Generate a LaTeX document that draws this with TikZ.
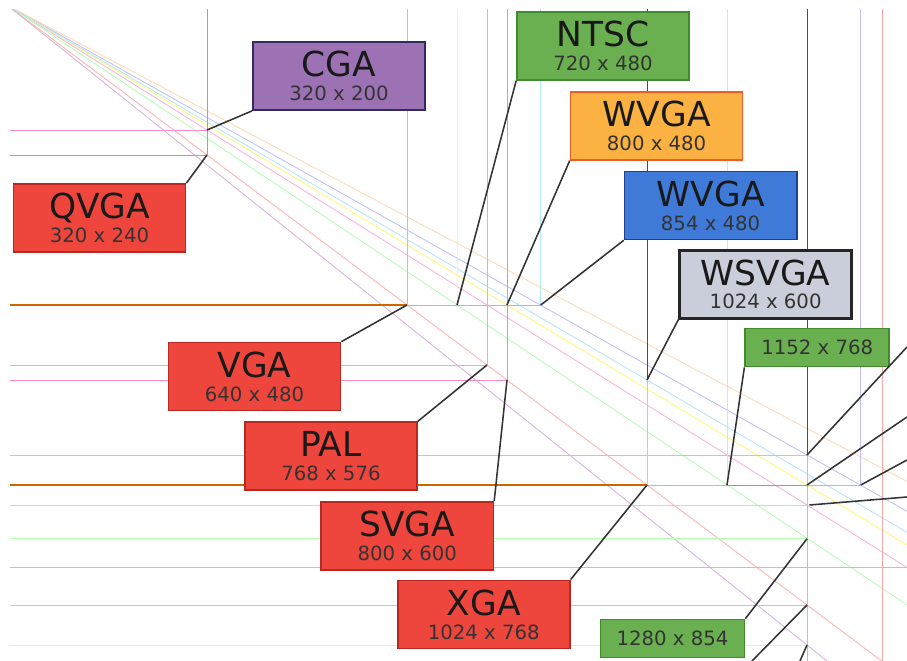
\documentclass[tikz,border=0pt]{standalone}
\usepackage{fontspec}
\setmainfont{DejaVu Sans}
\usepackage{xcolor}
\usepackage{tikz}
\usetikzlibrary{positioning}
\definecolor{vgared}{RGB}{238,70,60}
\definecolor{vgaredline}{RGB}{185,40,32}
\definecolor{cgapurple}{RGB}{156,114,180}
\definecolor{cgaline}{RGB}{48,44,96}
\definecolor{ntscgreen}{RGB}{106,176,80}
\definecolor{ntscline}{RGB}{64,138,48}
\definecolor{wvgaorange}{RGB}{251,178,66}
\definecolor{wvgaorangeline}{RGB}{240,92,36}
\definecolor{wvgablue}{RGB}{64,122,216}
\definecolor{wvgablueline}{RGB}{32,64,138}
\definecolor{wsvgagray}{RGB}{202,206,218}
\tikzset{
	gridline/.style={line width=0.6pt},
	leader/.style={draw=black!80, line width=1.1pt},
	resbox/.style={
		rectangle, draw, line width=1.2pt,
		minimum width=4.3cm, minimum height=1.7cm, inner sep=2pt,
		align=center, text=black!90, font=\fontsize{14}{17}\selectfont
	},
	redbox/.style={resbox, fill=vgared, draw=vgaredline},
	smallbox/.style={resbox, fill=ntscgreen, draw=ntscline, minimum width=3.6cm, minimum height=0.95cm}
}
\newcommand{\resname}[1]{{\fontsize{24.5}{17}\selectfont #1}}
\newcommand{\ressize}[1]{\textcolor{black!80}{#1}}

\begin{document}
\begin{tikzpicture}[x=0.025cm, y=-0.025cm, node distance=0.25cm]
	\fill[white] (0,0) rectangle (907,661);
	\useasboundingbox (0,0) rectangle (907,661);

	%Grid
	\begin{scope}
		\clip (10,10) rectangle (907,661);
		\begin{scope}[shift={(7,5)}, scale=0.625]
			% aspect ratio lines
			\foreach \a/\b/\c in {4/3/red!30, 8/5/magenta!30, 5/3/yellow!55, 16/9/blue!25, 3/2/green!30, 5/4/violet!30, 128/75/cyan!30, 17/9/orange!30}
				\draw[gridline, draw=\c] (0,0) -- (1500, {1500/\a*\b});
			% heights
			\draw[gridline, magenta!45] (0,200) -- (320,200);
			\draw[gridline, magenta!55] (0,240) -- (320,240);
			\draw[gridline, orange!80!black, line width=0.9pt] (0,480) -- (640,480);
			\draw[gridline, yellow!70!green] (640,480) -- (854,480);
			\draw[gridline, red!35] (0,576) -- (768,576);
			\draw[gridline, magenta!45] (0,600) -- (800,600);
			\draw[gridline, cyan!45] (0,720) -- (1280,720);
			\draw[gridline, orange!80!black, line width=0.9pt] (0,768) -- (1024,768);
			\draw[gridline, yellow!70!green] (1024,768) -- (1152,768);
			\draw[gridline, black!40] (1152,768) -- (1280,768);
			\draw[gridline, blue!30] (1280,768) -- (1366,768);
			\draw[gridline, blue!20] (0,800) -- (1280,800);
			\draw[gridline, green!30] (0,854) -- (1280,854);
			\draw[gridline, violet!30] (0,900) -- (1500,900);
			\draw[gridline, orange!55] (0,960) -- (1280,960);
			\draw[gridline, yellow!60] (0,1024) -- (1280,1024);
			\draw[gridline, red!35] (0,1050) -- (1400,1050);
			% widths
			\draw[gridline, magenta!55] (320,0) -- (320,240);
			\draw[gridline, red!35] (640,0) -- (640,480);
			\draw[gridline, yellow!40] (720,0) -- (720,480);
			\draw[gridline, red!35] (768,0) -- (768,576);
			\draw[gridline, red!45] (800,0) -- (800,600);
			\draw[gridline, cyan!30] (854,0) -- (854,480);
			\draw[gridline, black!70] (1024,0) -- (1024,600);
			\draw[gridline, red!30] (1024,600) -- (1024,768);
			\draw[gridline, cyan!25] (1152,0) -- (1152,768);
			\draw[gridline, black!70] (1280,0) -- (1280,720);
			\draw[gridline, red!35] (1280,720) -- (1280,1050);
			\draw[gridline, blue!25] (1366,0) -- (1366,768);
			\draw[gridline, red!35] (1400,0) -- (1400,1050);
			% resolution points
			\coordinate (p320x200) at (320,200);
			\coordinate (p320x240) at (320,240);
			\coordinate (p640x480) at (640,480);
			\coordinate (p720x480) at (720,480);
			\coordinate (p800x480) at (800,480);
			\coordinate (p854x480) at (854,480);
			\coordinate (p768x576) at (768,576);
			\coordinate (p800x600) at (800,600);
			\coordinate (p1024x600) at (1024,600);
			\coordinate (p1024x768) at (1024,768);
			\coordinate (p1152x768) at (1152,768);
			\coordinate (p1280x720) at (1280,720);
			\coordinate (p1280x768) at (1280,768);
			\coordinate (p1366x768) at (1366,768);
			\coordinate (p1280x800) at (1284,800);
			\coordinate (p1280x854) at (1280,854);
			\coordinate (p1280x960) at (1280,960);
			\coordinate (p1280x1024) at (1280,1024);
		\end{scope}
	\end{scope}

	%Nodes
	\node[resbox, fill=cgapurple, draw=cgaline] (cga) at (339,76) {\resname{CGA}\\\ressize{320 x 200}};
	\node[redbox] (qvga) at (99.5,218) {\resname{QVGA}\\\ressize{320 x 240}};
	\node[resbox, fill=ntscgreen, draw=ntscline] (ntsc) at (603,46) {\resname{NTSC}\\\ressize{720 x 480}};
	\node[resbox, fill=wvgaorange, draw=wvgaorangeline] (wvga) [below=of ntsc, xshift=1.34cm] {\resname{WVGA}\\\ressize{800 x 480}};
	\node[resbox, fill=wvgablue, draw=wvgablueline] (wvgab) [below=of wvga, xshift=1.35cm] {\resname{WVGA}\\\ressize{854 x 480}};
	\node[resbox, fill=wsvgagray, draw=black!85, line width=1.8pt] (wsvga) [below=0.22cm of wvgab, xshift=1.375cm] {\resname{WSVGA}\\\ressize{1024 x 600}};
	\node[smallbox] (r1152) [below=0.2cm of wsvga, xshift=1.29cm] {\ressize{1152 x 768}};
	\node[redbox] (vga) at (254.5,376.5) {\resname{VGA}\\\ressize{640 x 480}};
	\node[redbox] (pal) [below=of vga, xshift=1.91cm] {\resname{PAL}\\\ressize{768 x 576}};
	\node[redbox] (svga) [below=of pal, xshift=1.91cm] {\resname{SVGA}\\\ressize{800 x 600}};
	\node[redbox] (xga) [below=0.22cm of svga, xshift=1.91cm] {\resname{XGA}\\\ressize{1024 x 768}};
	\node[smallbox] (r1280) at (672.5,638.5) {\ressize{1280 x 854}};

	% free ends at the border
	\coordinate (e1280x720) at (907,347);
	\coordinate (e1280x768) at (907,417);
	\coordinate (e1366x768) at (907,460);
	\coordinate (e1280x800) at (907,497);
	\coordinate (e1280x960) at (752,661);
	\coordinate (e1280x1024) at (800,661);

	%Lines
	\draw[leader] (cga.south west) -- (p320x200);
	\draw[leader] (qvga.north east) -- (p320x240);
	\draw[leader] (ntsc.south west) -- (p720x480);
	\draw[leader] (wvga.south west) -- (p800x480);
	\draw[leader] (wvgab.south west) -- (p854x480);
	\draw[leader] (wsvga.south west) -- (p1024x600);
	\draw[leader] (r1152.south west) -- (p1152x768);
	\draw[leader] (vga.north east) -- (p640x480);
	\draw[leader] (pal.north east) -- (p768x576);
	\draw[leader] (svga.north east) -- (p800x600);
	\draw[leader] (xga.north east) -- (p1024x768);
	\draw[leader] (r1280.north east) -- (p1280x854);
	\draw[leader] (e1280x720) -- (p1280x720);
	\draw[leader] (e1280x768) -- (p1280x768);
	\draw[leader] (e1366x768) -- (p1366x768);
	\draw[leader] (e1280x800) -- (p1280x800);
	\draw[leader] (e1280x960) -- (p1280x960);
	\draw[leader] (e1280x1024) -- (p1280x1024);
\end{tikzpicture}
\end{document}
